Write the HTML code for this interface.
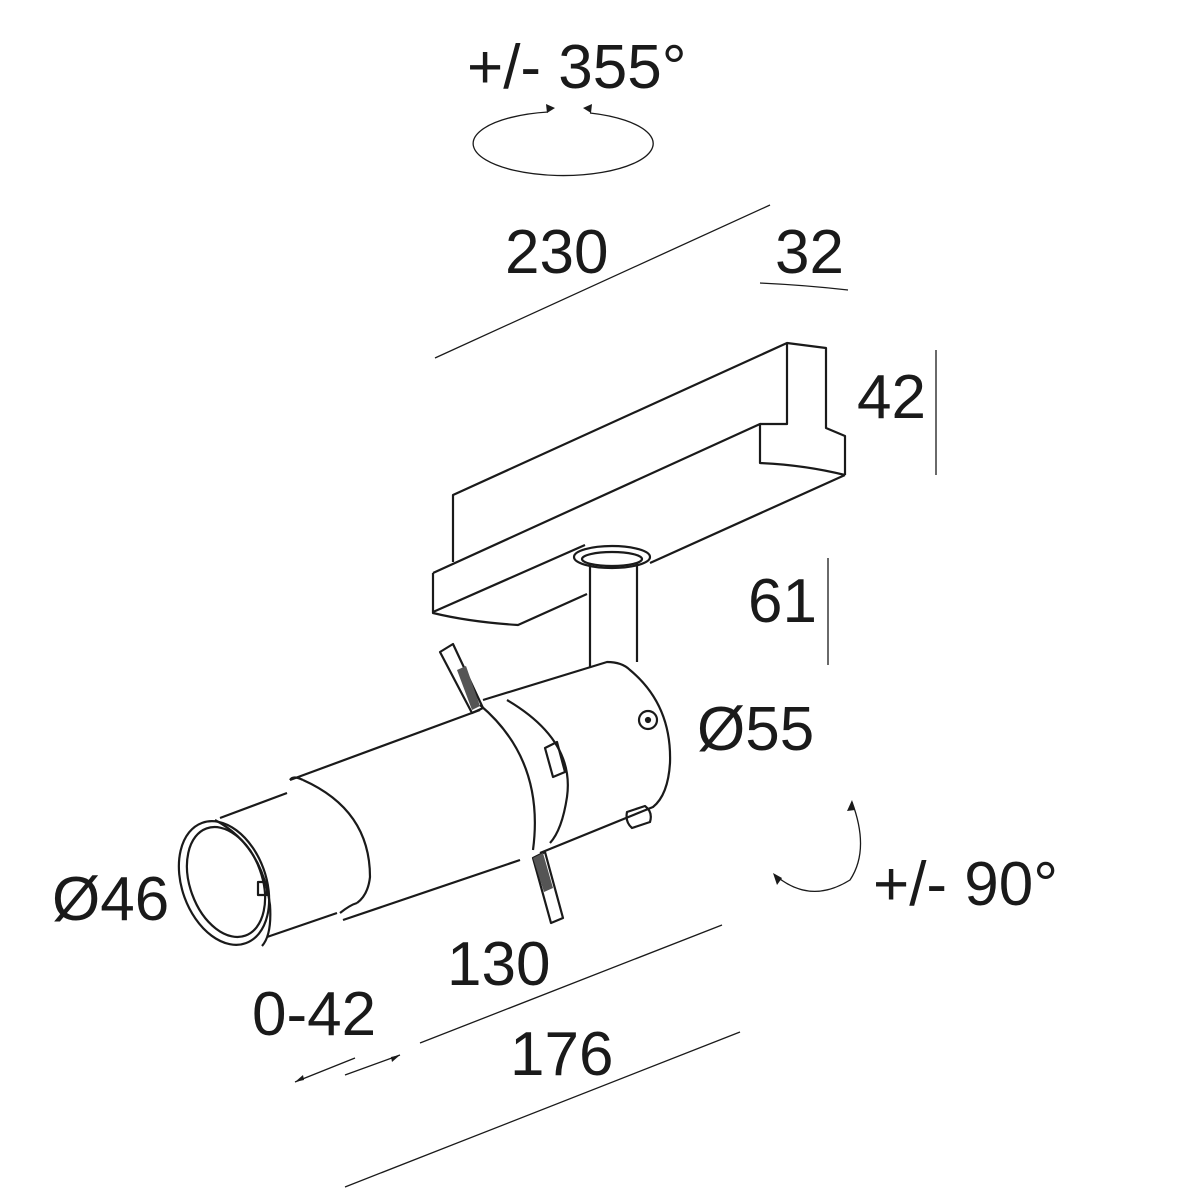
<!DOCTYPE html>
<html><head><meta charset="utf-8"><style>
html,body{margin:0;padding:0;background:#fff}
svg{display:block}
text{font-family:"Liberation Sans",sans-serif;fill:#1a1a1a;font-size:62px}
</style></head><body>
<svg width="1195" height="1200" viewBox="0 0 1195 1200" xmlns="http://www.w3.org/2000/svg">
<g fill="none" stroke="#1a1a1a" stroke-width="1.3">
<line x1="435" y1="358" x2="770" y2="205"/>
<path d="M760 283 Q805 285 848 290"/>
<line x1="936" y1="350" x2="936" y2="475"/>
<line x1="828" y1="558" x2="828" y2="665"/>
<line x1="420" y1="1043" x2="722" y2="925"/>
<line x1="345" y1="1187" x2="740" y2="1032"/>
<line x1="295" y1="1082" x2="355" y2="1058"/>
<line x1="345" y1="1075" x2="400" y2="1055"/>
<path d="M548 112 A90 32 0 1 0 590 113"/>
<path d="M775 875 Q810 905 850 880 Q870 850 852 802"/>
</g>
<g fill="#1a1a1a">
<path d="M295 1082 l8 -7 l1 5z"/><path d="M400 1055 l-8 7 l-1 -5z"/>
<path d="M555 108 l-9 -4 l1 9z"/><path d="M583 108 l9 -4 l-1 9z"/>
<path d="M773 873 l4 12 l5 -7z"/><path d="M852 800 l-5 11 l8 -1z"/>
</g>
<g fill="none" stroke="#1a1a1a" stroke-width="2.2" stroke-linejoin="round">
<path d="M453 562 L453 495 L787 343 L826 348 L826 428 L845 436 L845 475"/>
<path d="M787 343 L787 424 L760 424"/>
<path d="M433 573 L760 424 L760 463 Q805 465 845 475"/>
<path d="M433 573 L433 613 Q470 622 518 625 L587 594"/>
<path d="M433 612 L585 545"/><path d="M650 563 L845 475"/>
<ellipse cx="612" cy="557" rx="38" ry="11"/>
<ellipse cx="612" cy="559" rx="30" ry="7"/>
<line x1="590" y1="563" x2="590" y2="668"/>
<line x1="637" y1="563" x2="637" y2="662"/>
<path d="M483 700 L607 662 Q622 662 630 670 Q672 705 670 763 Q668 795 653 807 L540 853"/>
<circle cx="648" cy="720" r="9"/><circle cx="648" cy="720" r="2" fill="#1a1a1a"/>
<path d="M627 812 L645 806 Q653 812 650 822 L632 828 Q625 822 627 812z"/>
<path d="M480 705 Q545 760 533 850"/>
<path d="M507 700 Q575 740 567 797 Q562 830 550 843"/>
<path d="M545 748 L557 742 L565 772 L553 777z"/>
<path d="M290 780 L480 710"/>
<path d="M343 920 L520 860"/>
<path d="M290 780 Q293 775 303 780"/>
<path d="M220 818 L287 793"/>
<path d="M303 780 Q370 810 370 877 Q368 895 357 903"/>
<path d="M267 937 L337 913"/>
<path d="M340 913 Q350 905 357 903"/>
<ellipse cx="224" cy="883" rx="42" ry="64" transform="rotate(-20 224 883)"/>
<ellipse cx="226" cy="882" rx="36" ry="57" transform="rotate(-20 226 882)"/>
<path d="M215 820 Q262 845 270 905 Q272 935 262 946"/>
<rect x="258" y="882" width="9" height="13"/>
<path d="M440 652 L453 644 L483 708 L472 713z"/>
<path d="M533 858 L545 852 L563 918 L551 923z"/>
</g>
<g fill="#555"><path d="M457 670 L466 666 L480 706 L472 710z"/><path d="M533 858 L543 853 L553 888 L544 892z"/></g>
<text x="467" y="88">+/- 355°</text>
<text x="505" y="273">230</text>
<text x="775" y="273">32</text>
<text x="857" y="418">42</text>
<text x="748" y="622">61</text>
<text x="697" y="750">Ø55</text>
<text x="52" y="920">Ø46</text>
<text x="873" y="905">+/- 90°</text>
<text x="447" y="985">130</text>
<text x="252" y="1035">0-42</text>
<text x="510" y="1075">176</text>
</svg>
</body></html>
